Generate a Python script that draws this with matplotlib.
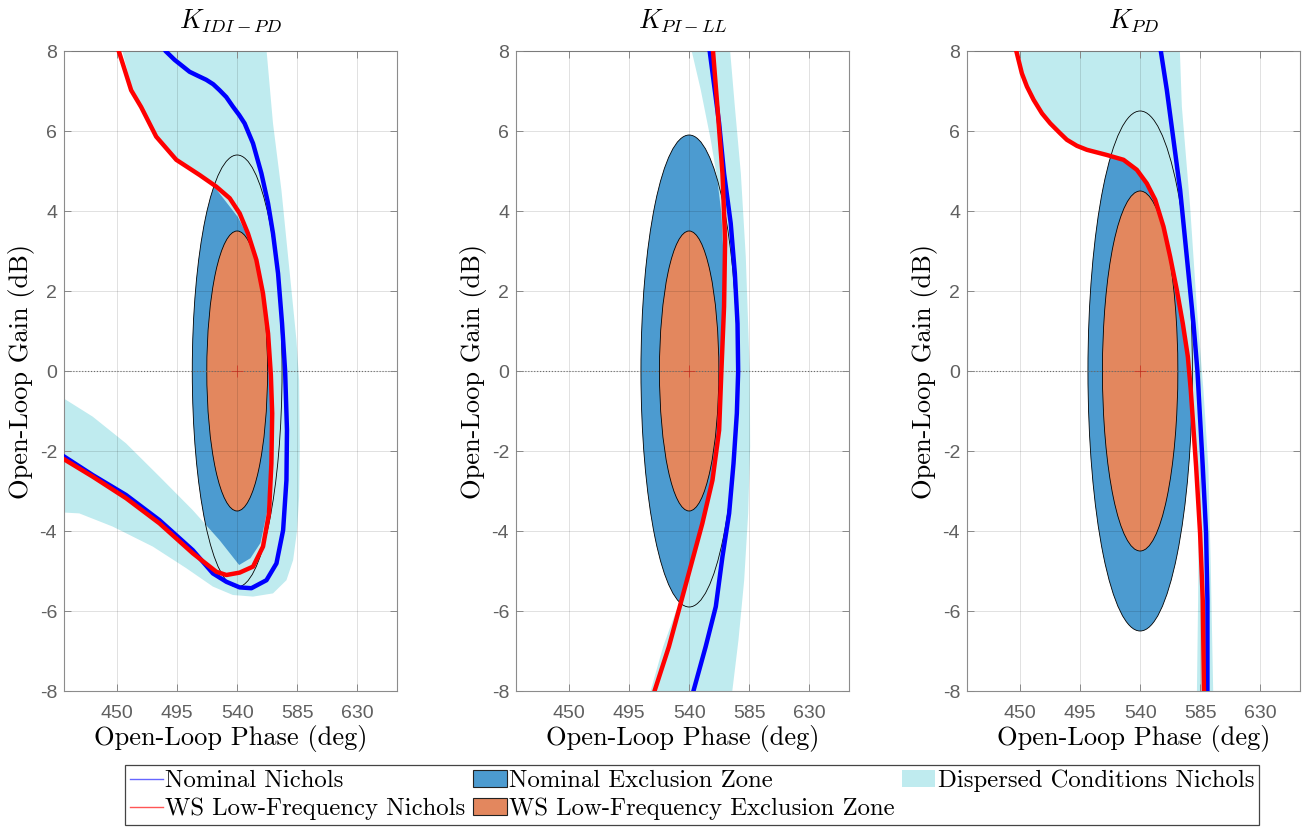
import numpy as np
import matplotlib
matplotlib.use("Agg")
import matplotlib.pyplot as plt
from matplotlib.patches import Ellipse, Patch
from matplotlib.lines import Line2D

plt.rcParams['mathtext.fontset'] = 'cm'
plt.rcParams['axes.unicode_minus'] = False
plt.rcParams['font.family'] = ['Liberation Sans', 'DejaVu Sans']

titles = [r'$K_{IDI-PD}$', r'$K_{PI-LL}$', r'$K_{PD}$']
phase_ticks = [450, 495, 540, 585, 630]
gain_ticks = [-8, -6, -4, -2, 0, 2, 4, 6, 8]

# exclusion zones, (phase half width, gain half height) around (540 deg, 0 dB)
nom_zone = [(33.7, 5.4), (36.2, 5.9), (39.2, 6.5)]
ws_zone = [(22.8, 3.5), (22.3, 3.5), (28.3, 4.5)]

# --- K_IDI-PD ---
nom1_phase = [482.0, 486.2, 493.0, 504.3, 510.5, 516.8, 522.0, 526.8, 531.8, 536.8, 541.5, 545.6,
              551.9, 558.2, 563.2, 566.9, 570.7, 573.7, 576.0, 577.4, 577.0, 574.5, 569.5,
              562.0, 550.7, 541.9, 531.9, 521.8, 506.7, 481.7, 456.6, 431.5, 410.2, 400.0]
nom1_gain = [8.3, 8.0, 7.78, 7.48, 7.38, 7.28, 7.17, 7.02, 6.85, 6.61, 6.4, 6.19,
             5.69, 4.94, 4.19, 3.44, 2.44, 1.19, 0.0, -1.48, -2.73, -3.98, -4.81,
             -5.23, -5.43, -5.41, -5.27, -5.06, -4.48, -3.73, -3.1, -2.6, -2.14, -1.95]
ws1_phase = [449.5, 451.1, 460.4, 467.9, 479.2, 494.3, 511.8, 524.3, 534.4, 541.9, 548.1, 554.4,
             559.4, 563.2, 565.3, 566.3, 565.7, 563.9, 559.4, 551.9, 541.9, 531.9, 524.4,
             506.8, 481.7, 456.6, 431.5, 410.2, 400.0]
ws1_gain = [8.3, 8.0, 7.02, 6.6, 5.86, 5.28, 4.9, 4.61, 4.32, 3.94, 3.44, 2.78,
            1.94, 0.94, -0.1, -1.06, -2.31, -3.56, -4.39, -4.89, -5.04, -5.1, -5.02,
            -4.56, -3.81, -3.18, -2.64, -2.21, -2.0]
disp1_phase = [451.5, 461.5, 469.0, 480.0, 495.0, 512.0, 522.5, 530.0, 540.5, 547.5, 553.5, 558.5,
               562.3, 564.3, 565.2, 564.6, 562.6, 557.5, 550.0, 541.5,
               526.8, 506.7, 481.7, 456.6, 431.5, 409.5, 400.0,
               400.0, 421.5, 446.6, 476.7, 501.8, 521.8, 536.8, 551.9, 566.9, 577.0, 582.0,
               585.0, 586.5, 587.0, 586.5, 584.5, 579.5, 573.2, 566.9, 561.3]
disp1_gain = [8.3, 7.0, 6.6, 5.86, 5.28, 4.9, 4.62, 4.3, 3.85, 3.4, 2.78, 1.94,
              0.94, -0.1, -1.06, -2.31, -3.5, -4.3, -4.68, -4.85,
              -4.23, -3.48, -2.64, -1.81, -1.14, -0.68, -0.55,
              -3.52, -3.56, -3.89, -4.39, -4.93, -5.39, -5.6, -5.64, -5.56, -5.23, -4.73,
              -3.98, -3.14, -1.89, -0.23, 0.78, 2.44, 4.53, 6.19, 8.3]

# --- K_PI-LL ---
nom2_phase = [553.5, 555.4, 559.2, 562.5, 566.2, 571.2, 574.3, 576.3, 576.8, 575.8, 573.3, 570.0,
              565.0, 560.0, 552.4, 543.2, 542.0]
nom2_gain = [8.3, 8.0, 7.03, 6.19, 4.94, 3.69, 2.44, 1.19, 0.0, -1.06, -2.31, -3.56,
             -4.64, -5.89, -6.89, -8.0, -8.3]
ws2_phase = [557.3, 557.9, 561.2, 565.0, 567.0, 566.2, 564.2, 562.5, 557.5, 549.9, 541.1, 533.6,
             524.8, 514.0, 512.5]
ws2_gain = [8.3, 8.0, 6.61, 4.94, 3.28, 1.61, 0.0, -1.48, -2.73, -3.81, -4.89, -5.81,
            -6.89, -8.0, -8.3]
disp2_phase = [539.8, 548.7, 556.2, 561.2, 564.2, 565.8, 565.4, 563.6, 561.8, 556.8, 549.2, 540.4,
               532.8, 529.5, 520.5, 508.5,
               571.3, 577.0, 581.3, 584.3, 585.8, 585.5, 582.5, 578.8, 574.3, 570.0]
disp2_gain = [8.3, 7.03, 5.78, 4.78, 3.94, 2.86, 1.61, 0.0, -1.48, -2.73, -3.81, -4.89,
              -5.81, -6.06, -6.89, -8.3,
              -8.3, -6.73, -5.23, -3.56, -1.89, 0.0, 2.86, 4.94, 6.61, 8.3]

# --- K_PD ---
nom3_phase = [554.8, 555.5, 560.0, 565.0, 570.0, 575.0, 580.0, 583.0, 587.0, 589.5, 590.5, 590.5]
nom3_gain = [8.3, 8.0, 7.03, 5.78, 4.53, 2.86, 1.19, 0.0, -2.39, -4.06, -5.73, -8.3]
ws3_phase = [446.0, 447.0, 451.2, 455.0, 460.0, 466.3, 472.5, 480.0, 485.0, 492.5, 500.0, 515.0,
             527.5, 537.5, 545.0, 551.3, 557.5, 562.5, 567.5, 572.0, 575.8, 578.0, 582.0, 585.0,
             587.0, 588.0]
ws3_gain = [8.3, 8.0, 7.44, 7.11, 6.78, 6.44, 6.19, 5.94, 5.78, 5.63, 5.53, 5.4,
            5.28, 5.03, 4.69, 4.28, 3.61, 2.86, 2.03, 1.19, 0.36, -0.48, -2.39, -4.06,
            -5.73, -8.3]
disp3_phase = [444.5, 446.5, 450.7, 454.5, 459.5, 465.8, 472.0, 479.5, 484.5, 492.0, 499.5, 514.5,
               527.0, 537.0, 544.5, 550.8, 557.0, 562.0, 567.0, 571.5, 575.3, 577.5, 581.3, 583.8,
               583.5, 582.5,
               595.0, 593.0, 591.2, 587.5, 582.5, 577.5, 571.3, 569.5]
disp3_gain = [8.3, 8.0, 7.44, 7.11, 6.78, 6.44, 6.19, 5.94, 5.78, 5.63, 5.53, 5.4,
              5.28, 5.03, 4.69, 4.28, 3.61, 2.86, 2.03, 1.19, 0.36, -0.48, -2.39, -4.06,
              -5.73, -8.3,
              -8.3, -4.89, -2.39, -0.48, 1.61, 4.11, 6.61, 8.3]

nom_curves = [(nom1_phase, nom1_gain), (nom2_phase, nom2_gain), (nom3_phase, nom3_gain)]
ws_curves = [(ws1_phase, ws1_gain), (ws2_phase, ws2_gain), (ws3_phase, ws3_gain)]
disp_regions = [(disp1_phase, disp1_gain), (disp2_phase, disp2_gain), (disp3_phase, disp3_gain)]

c_nom_zone = '#4c9bd0'
c_ws_zone = '#e3875e'
c_disp = '#bfebef'

W, H = 1309, 827
fig = plt.figure(figsize=(W / 100, H / 100), dpi=100)
lefts = [64, 516, 967]

for i in range(3):
    ax = fig.add_axes([lefts[i] / W, (H - 691) / H, 333 / W, 640 / H])
    ax.set_axisbelow(False)

    a, b = nom_zone[i]
    ax.add_patch(Ellipse((540, 0), 2 * a, 2 * b, facecolor=c_nom_zone, edgecolor='none', zorder=1.0))
    ax.fill(disp_regions[i][0], disp_regions[i][1], color=c_disp, lw=0, zorder=1.2)
    a2, b2 = ws_zone[i]
    ax.add_patch(Ellipse((540, 0), 2 * a2, 2 * b2, facecolor=c_ws_zone, edgecolor='none', zorder=1.4))
    ax.add_patch(Ellipse((540, 0), 2 * a, 2 * b, facecolor='none', edgecolor='k', lw=0.6, zorder=1.6))
    ax.add_patch(Ellipse((540, 0), 2 * a2, 2 * b2, facecolor='none', edgecolor='k', lw=0.6, zorder=1.6))

    ax.axhline(0, color='#7a7a7a', ls=':', lw=0.8, zorder=1.7)
    ax.plot([540], [0], marker='+', color='#e8402a', ms=8, mew=0.6, zorder=1.8)

    ax.plot(nom_curves[i][0], nom_curves[i][1], color='#0000ff', lw=3.2, zorder=3,
            solid_capstyle='butt', solid_joinstyle='round')
    ax.plot(ws_curves[i][0], ws_curves[i][1], color='#ff0000', lw=3.2, zorder=3.1,
            solid_capstyle='butt', solid_joinstyle='round')

    ax.set_xlim(410, 660)
    ax.set_ylim(-8, 8)
    ax.set_xticks(phase_ticks)
    ax.set_yticks(gain_ticks)
    ax.grid(True, color='k', alpha=0.12, lw=0.7)
    ax.tick_params(direction='in', length=5, width=0.7, color='#888888', labelcolor='#606060',
                   labelsize=14, top=True, right=True)
    ax.tick_params(axis='x', pad=10)
    ax.tick_params(axis='y', pad=5)
    for s in ax.spines.values():
        s.set_color('#8c8c8c')
        s.set_linewidth(0.8)

    ax.set_title(titles[i], fontsize=19, pad=16)
    ax.set_xlabel('Open-Loop Phase (deg)', fontfamily='cmr10', fontsize=19, labelpad=2)
    ax.set_ylabel('Open-Loop Gain (dB)', fontfamily='cmr10', fontsize=19, labelpad=3)

handles = [
    Line2D([], [], color='#6666ff', lw=1),
    Line2D([], [], color='#ff5555', lw=1),
    Patch(facecolor=c_nom_zone, edgecolor='#222222', lw=0.8),
    Patch(facecolor=c_ws_zone, edgecolor='#222222', lw=0.8),
    Patch(facecolor=c_disp, edgecolor='none'),
]
labels = ['Nominal Nichols', 'WS Low-Frequency Nichols', 'Nominal Exclusion Zone',
          'WS Low-Frequency Exclusion Zone', 'Dispersed Conditions Nichols']
leg = fig.legend(handles, labels, ncol=3, loc='center', bbox_to_anchor=(692 / W, 1 - 795 / H),
                 prop={'family': 'cmr10', 'size': 17.8}, fancybox=False, edgecolor='#444444',
                 framealpha=1, handlelength=1.35, handletextpad=0.1, columnspacing=0.3,
                 borderpad=0.2, borderaxespad=0, labelspacing=0.22)
leg.get_frame().set_linewidth(0.9)

fig.savefig('out.png', dpi=100)
